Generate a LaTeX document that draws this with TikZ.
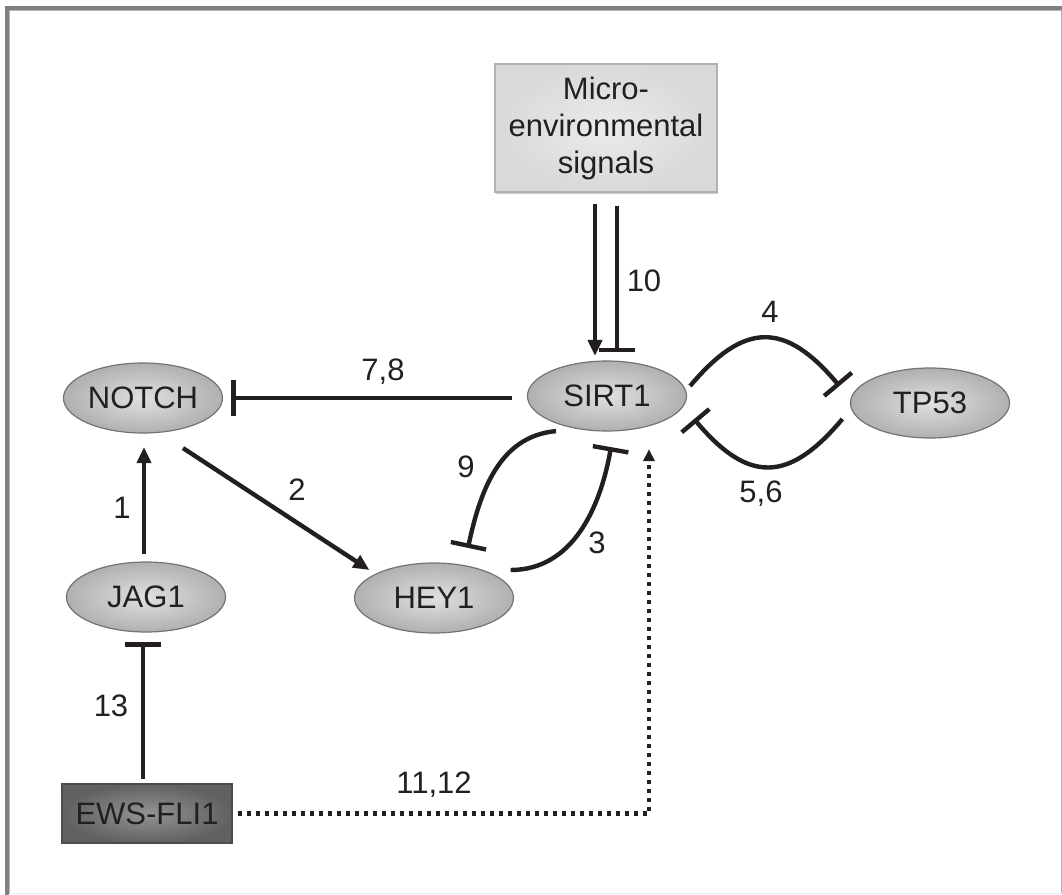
\documentclass[tikz,border=0pt]{standalone}
\usepackage{fontspec}
\setmainfont{Liberation Sans}
\usetikzlibrary{arrows.meta,shapes.geometric,shadows}
\definecolor{ink}{HTML}{231F20}
\definecolor{framegray}{HTML}{808080}
\definecolor{framelight}{HTML}{B4B4B4}
\tikzset{>/.tip={Triangle[length=8pt,width=7pt]},
  every node/.style={font=\fontsize{15.5}{18.5}\selectfont, text=ink},
  gene/.style={ellipse, draw=black!55, line width=0.6pt, inner sep=0pt,
    minimum width=79.5pt, minimum height=35pt,
    shading=radial, inner color=black!12, outer color=black!31},
  envbox/.style={rectangle, draw=black!30, line width=0.6pt, inner sep=0pt,
    minimum width=111pt, minimum height=64pt, align=center,
    shading=radial, inner color=black!8, outer color=black!15,
    drop shadow={shadow xshift=0.6pt, shadow yshift=-1pt, opacity=0.35, fill=black!60}},
  ewsbox/.style={rectangle, draw=black!70, line width=0.6pt, inner sep=0pt,
    minimum width=85pt, minimum height=29.5pt,
    shading=radial, inner color=black!42, outer color=black!62},
  lbl/.style={inner sep=0pt},
  link/.style={draw=ink, line width=2.2pt},
  inh/.style={link, -{Bar[width=18pt]}},
  dotline/.style={draw=ink, line width=2.2pt, dash pattern=on 2.2pt off 2.3pt}}

\begin{document}
\begin{tikzpicture}[x=0.5pt, y=0.5pt]
\useasboundingbox (0,0) rectangle (1062,-895);
% frame
\draw[framegray, line width=2pt] (5,-8) -- (1062,-8);
\draw[framegray, line width=2pt] (7,-6) -- (7,-895);
\draw[framelight, line width=0.5pt] (9.5,-893) -- (9.5,-10.5) -- (1061,-10.5) -- (1061,-893);
\draw[black!8, line width=0.5pt] (9.5,-893) -- (1061,-893);

\node[envbox] (micro) at (606,-128) {Micro-\\environmental\\signals};
\node[gene] (sirt) at (607,-396) {SIRT1};
\node[gene] (tp53) at (930,-403) {TP53};
\node[gene] (notch) at (143,-398) {NOTCH};
\node[gene] (jag) at (146,-597) {JAG1};
\node[gene] (hey) at (434,-598) {HEY1};
\node[ewsbox] (ews) at (147,-813.5) {EWS-FLI1};

\draw[link,->] ([shift={(-11,-11)}]micro.south) -- ([shift={(-12,4.5)}]sirt.north);
\draw[inh] ([shift={(11,-13)}]micro.south) -- ([shift={(10,8.5)}]sirt.north);
\draw[inh] ([shift={(3,10)}]sirt.east) to[out=50,in=130,looseness=1.45] ([shift={(-10.5,17)}]tp53.west);
\draw[inh] ([shift={(-7.5,-16)}]tp53.west) to[out=-130,in=-50,looseness=1.45] ([shift={(7,-23)}]sirt.east);
\draw[inh] ([shift={(-15,-2)}]sirt.west) -- ([shift={(8,0)}]notch.east);
\draw[link,->] ([shift={(40,-14.5)}]notch.south) -- ([shift={(15.5,28)}]hey.west);
\draw[link,->] ([shift={(-2,7.5)}]jag.north) -- ([shift={(1,-13.5)}]notch.south);
\draw[inh] ([shift={(-51,0.5)}]sirt.south) to[out=185,in=78] ([shift={(34,14.5)}]hey.north);
\draw[inh] ([shift={(-3.5,28)}]hey.east) to[out=0,in=-100] ([shift={(4,-15.5)}]sirt.south);
\draw[inh] ([shift={(-4,4)}]ews.north) -- ([shift={(-3,-9.5)}]jag.south);
\draw[dotline,-{Triangle[length=6pt,width=5.5pt]}] ([shift={(5,0)}]ews.east) -| ([shift={(42,-17.5)}]sirt.south);

\node[lbl] (l10) at (644,-281) {10};
\node[lbl] (l4) at (770,-312) {4};
\node[lbl] (l56) at (761,-494) {5,6};
\node[lbl] (l78) at (383,-372) {7,8};
\node[lbl] (l2) at (297,-490) {2};
\node[lbl] (l1) at (122,-508) {1};
\node[lbl] (l9) at (466,-467) {9};
\node[lbl] (l3) at (597,-543) {3};
\node[lbl] (l13) at (111,-706) {13};
\node[lbl] (l1112) at (434,-785) {11,12};
\end{tikzpicture}
\end{document}
